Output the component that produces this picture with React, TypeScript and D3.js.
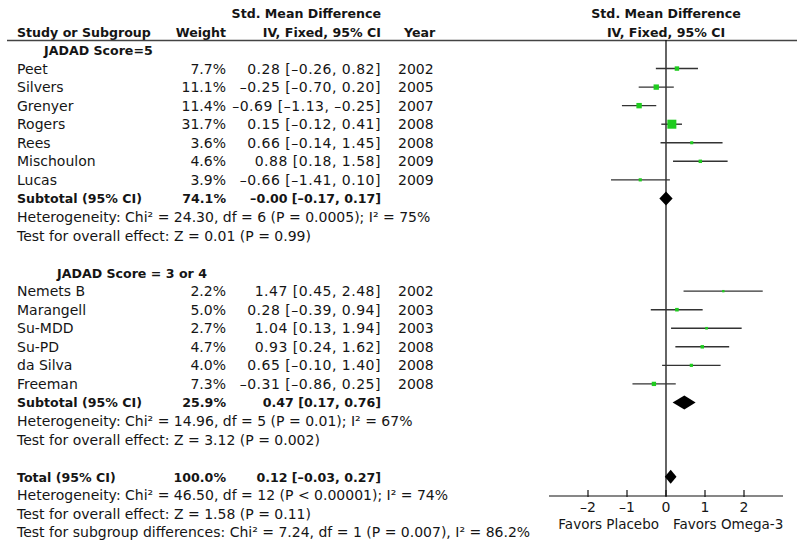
import React from "react";
import * as d3 from "d3";

// ---------- data ----------
const group1Title = "JADAD Score=5";
const studies1 = ["Peet", "Silvers", "Grenyer", "Rogers", "Rees", "Mischoulon", "Lucas"];
const weights1 = [7.7, 11.1, 11.4, 31.7, 3.6, 4.6, 3.9];
const smd1 = [0.28, -0.25, -0.69, 0.15, 0.66, 0.88, -0.66];
const lo1 = [-0.26, -0.7, -1.13, -0.12, -0.14, 0.18, -1.41];
const hi1 = [0.82, 0.2, -0.25, 0.41, 1.45, 1.58, 0.1];
const years1 = [2002, 2005, 2007, 2008, 2008, 2009, 2009];

const group2Title = "JADAD Score = 3 or 4";
const studies2 = ["Nemets B", "Marangell", "Su-MDD", "Su-PD", "da Silva", "Freeman"];
const weights2 = [2.2, 5.0, 2.7, 4.7, 4.0, 7.3];
const smd2 = [1.47, 0.28, 1.04, 0.93, 0.65, -0.31];
const lo2 = [0.45, -0.39, 0.13, 0.24, -0.1, -0.86];
const hi2 = [2.48, 0.94, 1.94, 1.62, 1.4, 0.25];
const years2 = [2002, 2003, 2003, 2008, 2008, 2008];

const subtotalWeights = [74.1, 25.9];
const subtotalSmd = [-0.0, 0.47];
const subtotalLo = [-0.17, 0.17];
const subtotalHi = [0.17, 0.76];
const subtotalHet = [
  ["Heterogeneity: Chi² = 24.30, df = 6 (P = 0.0005); I² = 75%", "Test for overall effect: Z = 0.01 (P = 0.99)"],
  ["Heterogeneity: Chi² = 14.96, df = 5 (P = 0.01); I² = 67%", "Test for overall effect: Z = 3.12 (P = 0.002)"],
];

const totalWeight = 100.0;
const totalSmd = 0.12;
const totalLo = -0.03;
const totalHi = 0.27;
const totalNotes = [
  "Heterogeneity: Chi² = 46.50, df = 12 (P < 0.00001); I² = 74%",
  "Test for overall effect: Z = 1.58 (P = 0.11)",
  "Test for subgroup differences: Chi² = 7.24, df = 1 (P = 0.007), I² = 86.2%",
];

const axisTicks = [-2, -1, 0, 1, 2];
const axisDomain = [-3, 3];
const favorsLeft = "Favors Placebo";
const favorsRight = "Favors Omega-3";

// ---------- helpers ----------
const DASH = "\u2013";
const fmt = (v: number) =>
  v < 0 || Object.is(v, -0) ? DASH + Math.abs(v).toFixed(2) : v.toFixed(2);
const ciText = (m: number, l: number, h: number) => `${fmt(m)} [${fmt(l)}, ${fmt(h)}]`;

const FONT = "'DejaVu Sans', Verdana, sans-serif";
const FS = 14;
const FSB = 12.6;

export default function App() {
  const W = 800;
  const H = 547;
  const x = d3.scaleLinear().domain(axisDomain).range([549, 783]);
  const row = d3.scaleLinear().domain([0, 1]).range([50, 68.55]);
  const sq = (w: number) => 1.6 * Math.sqrt(w);

  const colName = 17;
  const colWeight = 226;
  const colCI = 381;
  const colYear = 398;
  const axisY = 496;
  const green = "#1fcc1f";
  const ink = "#151515";

  type Row = { kind: string; i: number; [k: string]: any };
  const rows: Row[] = [];
  let r = 0;
  rows.push({ kind: "group", i: r++, label: group1Title, indent: 44 });
  studies1.forEach((s, k) =>
    rows.push({ kind: "study", i: r++, name: s, w: weights1[k], m: smd1[k], l: lo1[k], h: hi1[k], y: years1[k] })
  );
  rows.push({ kind: "sub", i: r++, name: "Subtotal (95% CI)", w: subtotalWeights[0], m: subtotalSmd[0], l: subtotalLo[0], h: subtotalHi[0] });
  subtotalHet[0].forEach((t) => rows.push({ kind: "note", i: r++, label: t }));
  r++;
  rows.push({ kind: "group", i: r++, label: group2Title, indent: 57 });
  studies2.forEach((s, k) =>
    rows.push({ kind: "study", i: r++, name: s, w: weights2[k], m: smd2[k], l: lo2[k], h: hi2[k], y: years2[k] })
  );
  rows.push({ kind: "sub", i: r++, name: "Subtotal (95% CI)", w: subtotalWeights[1], m: subtotalSmd[1], l: subtotalLo[1], h: subtotalHi[1] });
  subtotalHet[1].forEach((t) => rows.push({ kind: "note", i: r++, label: t }));
  r++;
  rows.push({ kind: "sub", i: r++, name: "Total (95% CI)", w: totalWeight, m: totalSmd, l: totalLo, h: totalHi });
  totalNotes.forEach((t) => rows.push({ kind: "note", i: r++, label: t }));

  const diamondH = 7;
  const diamond = (m: number, l: number, h: number, cy: number) =>
    `M${x(l)},${cy} L${x(m)},${cy - diamondH} L${x(h)},${cy} L${x(m)},${cy + diamondH} Z`;

  const ty = (cy: number) => cy + 5;

  return (
    <svg width={W} height={H} style={{ position: "absolute", left: 0, top: 0, background: "#fff" }} fontFamily={FONT} fontSize={FS}>
      <rect x={0} y={0} width={W} height={H} fill="#fff" />
      {/* headers */}
      <g fontWeight="bold" fill={ink} fontSize={FSB}>
        <text x={colCI} y={ty(12.5)} textAnchor="end">Std. Mean Difference</text>
        <text x={colName} y={ty(31.5)}>Study or Subgroup</text>
        <text x={colWeight} y={ty(31.5)} textAnchor="end">Weight</text>
        <text x={colCI} y={ty(31.5)} textAnchor="end">IV, Fixed, 95% CI</text>
        <text x={404} y={ty(31.5)}>Year</text>
        <text x={x(0)} y={ty(12.5)} textAnchor="middle">Std. Mean Difference</text>
        <text x={x(0)} y={ty(31.5)} textAnchor="middle">IV, Fixed, 95% CI</text>
      </g>
      <line x1={7} x2={797} y1={40.5} y2={40.5} stroke="#444" strokeWidth={1.6} />

      {/* zero line */}
      <line x1={x(0)} x2={x(0)} y1={40} y2={axisY} stroke="#111" strokeWidth={1.3} />

      {rows.map((d, idx) => {
        const cy = row(d.i);
        if (d.kind === "group")
          return (
            <text key={idx} x={d.indent} y={ty(cy)} fontWeight="bold" fontSize={FSB} fill={ink}>{d.label}</text>
          );
        if (d.kind === "note")
          return (
            <text key={idx} x={colName} y={ty(cy)} fill={ink}>{d.label}</text>
          );
        if (d.kind === "study") {
          const s = sq(d.w);
          return (
            <g key={idx} fill={ink}>
              <text x={colName} y={ty(cy)}>{d.name}</text>
              <text x={colWeight} y={ty(cy)} textAnchor="end">{d.w.toFixed(1)}%</text>
              <text x={colCI} y={ty(cy)} textAnchor="end" letterSpacing={0.5}>{ciText(d.m, d.l, d.h)}</text>
              <text x={colYear} y={ty(cy)}>{d.y}</text>
              <line x1={x(d.l)} x2={x(d.h)} y1={cy} y2={cy} stroke="#333" strokeWidth={1.4} />
              <rect x={x(d.m) - s / 2} y={cy - s / 2} width={s} height={s} fill={green} />
            </g>
          );
        }
        return (
          <g key={idx} fill={ink} fontWeight="bold" fontSize={FSB}>
            <text x={colName} y={ty(cy)}>{d.name}</text>
            <text x={colWeight} y={ty(cy)} textAnchor="end">{d.w.toFixed(1)}%</text>
            <text x={colCI} y={ty(cy)} textAnchor="end">{ciText(d.m, d.l, d.h)}</text>
            <path d={diamond(d.m, d.l, d.h, cy)} fill="#000" />
          </g>
        );
      })}

      {/* axis */}
      <line x1={x(axisDomain[0])} x2={x(axisDomain[1])} y1={axisY} y2={axisY} stroke="#111" strokeWidth={1.2} />
      {axisTicks.map((t) => (
        <g key={t}>
          <line x1={x(t)} x2={x(t)} y1={axisY - 6} y2={axisY + 1} stroke="#111" strokeWidth={1.2} />
          <text x={x(t)} y={ty(507)} textAnchor="middle" fill={ink}>{t < 0 ? DASH + Math.abs(t) : t}</text>
        </g>
      ))}
      <text x={659} y={ty(523.5)} textAnchor="end" fill={ink} fontSize={13.5}>{favorsLeft}</text>
      <text x={673} y={ty(523.5)} fill={ink} fontSize={13.5}>{favorsRight}</text>
    </svg>
  );
}
